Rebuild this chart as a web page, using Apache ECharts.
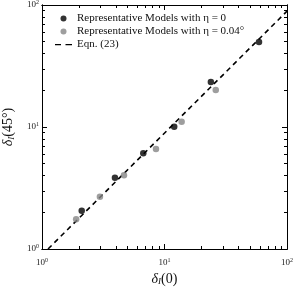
<!DOCTYPE html>
<html><head><meta charset="utf-8">
<script src="https://cdn.jsdelivr.net/npm/echarts@6/dist/echarts.min.js"></script>
<style>html,body{margin:0;padding:0;background:#fff}#c{width:293px;height:287px}</style>
</head><body><div id="c"></div>
<script>
const blackX = [2.11, 3.94, 6.71, 12.0, 23.9, 59.1];
const blackY = [2.06, 3.84, 6.09, 10.06, 23.4, 49.8];
const grayX = [1.90, 2.97, 4.67, 8.52, 13.8, 26.2];
const grayY = [1.75, 2.68, 4.02, 6.60, 11.05, 20.1];
const lineX = [1.12, 100];
const lineY = [1, 89];
const majorTicks = [1, 10, 100];
const minorTicks = [2,3,4,5,6,7,8,9,20,30,40,50,60,70,80,90];
const seriesNames = ['Representative Models with η = 0', 'Representative Models with η = 0.04°', 'Eqn. (23)'];

const FONT = '"Liberation Serif", "DejaVu Serif", serif';
const chart = echarts.init(document.getElementById('c'), null, {renderer: 'canvas'});
const supRich = {
  b: {fontFamily: FONT, fontSize: 9, color: '#222'},
  s: {fontFamily: FONT, fontSize: 6, color: '#222', verticalAlign: 'top', padding: [0,0,5,0]}
};
function labelFmt(v) { const k = Math.round(Math.log10(v)); return '{b|10}{s|' + k + '}'; }

function mainAxis(isX) {
  return {
    type: 'log', logBase: 10, min: 1, max: 100,
    axisLine: {show: true, lineStyle: {color: '#000', width: 1}},
    splitLine: {show: false},
    axisTick: {show: true, inside: true, length: 5, lineStyle: {color: '#000', width: 1}},
    axisLabel: {show: true, formatter: labelFmt, rich: supRich, margin: isX ? 8 : 3},
  };
}
const SHIFT = 10;
function tickAxis(pos, vals, len) {
  return {
    type: 'value', min: SHIFT, max: SHIFT + 2, position: pos,
    axisLine: {show: true, lineStyle: {color: '#000', width: 1}},
    splitLine: {show: false},
    axisTick: {show: true, inside: true, length: len, lineStyle: {color: '#000', width: 1},
      customValues: vals.map(v => Math.log10(v) + SHIFT)},
    axisLabel: {show: false},
  };
}
const xA = [mainAxis(true), tickAxis('bottom', minorTicks, 3), tickAxis('top', majorTicks, 5), tickAxis('top', minorTicks, 3)];
const yA = [mainAxis(false), tickAxis('left', minorTicks, 3), tickAxis('right', majorTicks, 5), tickAxis('right', minorTicks, 3)];
const nameRich = {
  a: {fontFamily: FONT, fontSize: 14, color: '#111', fontStyle: 'italic'},
  p: {fontFamily: FONT, fontSize: 14, color: '#111'},
  s: {fontFamily: FONT, fontSize: 9, color: '#111', fontStyle: 'italic', verticalAlign: 'bottom', padding: [6,0,0,0]}
};
xA[0].name = '{a|δ}{s|I}{p|(0)}';
xA[0].nameLocation = 'middle';
xA[0].nameGap = 20;
xA[0].nameTextStyle = {rich: nameRich};
yA[0].name = '{a|δ}{s|I}{p|(45°)}';
yA[0].nameLocation = 'middle';
yA[0].nameGap = 14;
yA[0].nameRotate = 90;
yA[0].nameTextStyle = {rich: nameRich};

function zip(a, b) { return a.map((v, i) => [v, b[i]]); }
const dashIcon = 'path://M0,0 M17,6 M0,2.4h6v1.3h-6z M10.5,2.4h6.5v1.3h-6.5z';

chart.setOption({
  animation: false,
  backgroundColor: '#fff',
  grid: {left: 42, right: 6, top: 5, bottom: 38, outerBoundsMode: 'none'},
  xAxis: xA,
  yAxis: yA,
  legend: {
    orient: 'vertical', left: 50, top: 8, itemGap: 2, itemWidth: 17, itemHeight: 6,
    textStyle: {fontFamily: FONT, fontSize: 11, color: '#111', lineHeight: 11},
    data: [
      {name: seriesNames[0], icon: 'circle'},
      {name: seriesNames[1], icon: 'circle'},
      {name: seriesNames[2], icon: dashIcon, itemStyle: {color: '#000'}}
    ]
  },
  series: [
    {name: seriesNames[1], type: 'scatter', xAxisIndex: 0, yAxisIndex: 0, data: zip(grayX, grayY), symbolSize: 6.5,
      itemStyle: {color: '#868686'}, z: 3},
    {name: seriesNames[0], type: 'scatter', xAxisIndex: 0, yAxisIndex: 0, data: zip(blackX, blackY), symbolSize: 6.5,
      itemStyle: {color: '#000'}, z: 4},
    {name: seriesNames[2], type: 'line', xAxisIndex: 0, yAxisIndex: 0, data: zip(lineX, lineY), symbol: 'none',
      lineStyle: {color: '#000', width: 1.6, type: [5, 4]}, itemStyle: {color: '#000'}, z: 2}
  ]
});
</script></body></html>
